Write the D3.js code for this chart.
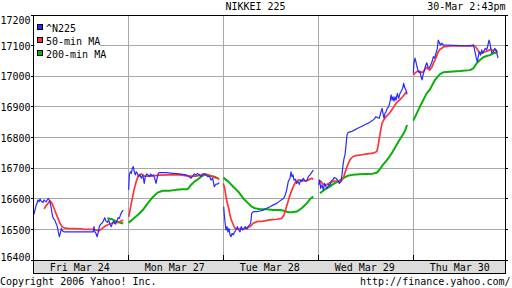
<!DOCTYPE html>
<html><head><meta charset="utf-8">
<script src="https://cdn.jsdelivr.net/npm/d3@7"></script>
<style>html,body{margin:0;padding:0;background:#fff}svg{display:block}text{font-family:"DejaVu Sans Mono",monospace;font-size:10px;fill:#000}</style>
</head><body>
<script>
// ---- data (t = trading day index + fraction of day, value = index points)
const dayLabels = ["Fri Mar 24","Mon Mar 27","Tue Mar 28","Wed Mar 29","Thu Mar 30"];
const yTicks = [16400,16500,16600,16700,16800,16900,17000,17100,17200];
const seriesNames = ["^N225","50-min MA","200-min MA"];
const titleText = "NIKKEI 225";
const stampText = "30-Mar 2:43pm";

const n225 = [
[0.007,16549],[0.018,16563],[0.028,16577],[0.039,16585],[0.049,16596],[0.060,16590],[0.071,16599],[0.081,16593],[0.092,16590],[0.102,16588],[0.113,16596],[0.123,16593],[0.134,16590],[0.147,16596],[0.158,16601],[0.168,16596],[0.179,16585],[0.189,16569],[0.200,16547],[0.211,16536],[0.225,16531],[0.239,16520],[0.253,16509],[0.263,16492],[0.274,16476],[0.284,16487],[0.295,16503],[0.309,16495],[0.323,16492],[0.492,16492],[0.632,16492],[0.639,16509],[0.649,16492],[0.660,16487],[0.671,16476],[0.681,16487],[0.695,16509],[0.709,16517],[0.723,16520],[0.737,16527],[0.752,16538],[0.765,16527],[0.779,16523],[0.794,16531],[0.807,16517],[0.821,16509],[0.836,16523],[0.849,16527],[0.863,16517],[0.878,16525],[0.892,16538],[0.905,16536],[0.920,16549],[0.934,16558],[0.947,16563],
[1.004,16629],[1.011,16678],[1.021,16688],[1.032,16683],[1.042,16699],[1.053,16705],[1.063,16688],[1.074,16678],[1.084,16688],[1.095,16683],[1.109,16672],[1.123,16678],[1.137,16667],[1.152,16678],[1.168,16650],[1.179,16672],[1.194,16681],[1.207,16678],[1.221,16672],[1.236,16681],[1.249,16674],[1.263,16678],[1.278,16667],[1.292,16650],[1.303,16667],[1.316,16683],[1.326,16685],[1.397,16685],[1.467,16683],[1.537,16681],[1.607,16678],[1.642,16672],[1.660,16667],[1.678,16674],[1.695,16681],[1.713,16678],[1.731,16683],[1.747,16678],[1.765,16672],[1.783,16678],[1.800,16681],[1.818,16678],[1.836,16672],[1.853,16674],[1.871,16661],[1.888,16667],[1.905,16639],[1.923,16648],[1.941,16648],[1.958,16652],
[2.004,16574],[2.011,16547],[2.018,16525],[2.028,16498],[2.039,16509],[2.049,16492],[2.060,16503],[2.070,16482],[2.081,16476],[2.092,16487],[2.105,16482],[2.120,16492],[2.134,16498],[2.147,16509],[2.162,16498],[2.176,16492],[2.189,16509],[2.204,16498],[2.218,16503],[2.232,16509],[2.246,16501],[2.260,16509],[2.274,16514],[2.288,16520],[2.299,16552],[2.316,16558],[2.352,16558],[2.386,16560],[2.421,16563],[2.457,16569],[2.492,16574],[2.527,16580],[2.563,16585],[2.597,16593],[2.632,16601],[2.650,16610],[2.667,16629],[2.684,16656],[2.702,16667],[2.713,16688],[2.723,16672],[2.734,16678],[2.744,16661],[2.758,16664],[2.773,16650],[2.786,16656],[2.800,16647],[2.815,16661],[2.829,16656],[2.842,16667],[2.860,16658],[2.878,16658],[2.895,16672],[2.913,16678],[2.931,16686],[2.947,16694],
[3.004,16645],[3.015,16661],[3.025,16634],[3.039,16645],[3.053,16629],[3.067,16650],[3.081,16639],[3.095,16634],[3.109,16647],[3.123,16643],[3.137,16658],[3.152,16661],[3.168,16669],[3.186,16667],[3.204,16661],[3.221,16650],[3.239,16656],[3.249,16678],[3.260,16710],[3.271,16732],[3.281,16743],[3.292,16775],[3.302,16808],[3.316,16817],[3.344,16819],[3.379,16824],[3.415,16830],[3.450,16835],[3.484,16841],[3.520,16846],[3.555,16852],[3.589,16860],[3.607,16868],[3.625,16865],[3.642,16863],[3.660,16884],[3.671,16895],[3.681,16879],[3.692,16863],[3.702,16879],[3.713,16884],[3.726,16895],[3.741,16901],[3.755,16917],[3.766,16939],[3.776,16922],[3.786,16933],[3.797,16919],[3.807,16933],[3.818,16922],[3.832,16944],[3.846,16928],[3.860,16944],[3.874,16952],[3.888,16961],[3.899,16977],[3.909,16963],[3.923,16955],[3.934,16941],
[4.000,17010],[4.007,17042],[4.018,17059],[4.028,17047],[4.039,17031],[4.049,17020],[4.060,17012],[4.071,17015],[4.081,16998],[4.092,16988],[4.102,17004],[4.113,17015],[4.126,17031],[4.141,17044],[4.155,17031],[4.168,17026],[4.183,17037],[4.197,17047],[4.211,17064],[4.225,17059],[4.239,17075],[4.253,17091],[4.263,17118],[4.274,17110],[4.284,17102],[4.299,17108],[4.316,17102],[4.352,17102],[4.421,17101],[4.492,17100],[4.562,17100],[4.615,17099],[4.632,17102],[4.642,17091],[4.653,17075],[4.663,17059],[4.674,17047],[4.684,17064],[4.695,17080],[4.709,17069],[4.720,17086],[4.731,17075],[4.745,17083],[4.758,17091],[4.773,17086],[4.786,17102],[4.797,17118],[4.807,17108],[4.818,17086],[4.828,17075],[4.842,17080],[4.857,17091],[4.871,17086],[4.884,17069],[4.892,17059]
];

const ma50 = [
[0.113,16567],[0.134,16577],[0.155,16585],[0.176,16593],[0.197,16585],[0.218,16569],[0.239,16552],[0.260,16536],[0.281,16520],[0.302,16509],[0.323,16505],[0.358,16503],[0.499,16502],[0.534,16500],[0.632,16500],[0.660,16498],[0.692,16495],[0.726,16503],[0.762,16512],[0.797,16517],[0.832,16520],[0.867,16523],[0.902,16523],[0.926,16527],[0.947,16531],
[1.004,16541],[1.018,16563],[1.032,16585],[1.046,16607],[1.060,16629],[1.074,16645],[1.088,16661],[1.102,16672],[1.116,16678],[1.134,16681],[1.152,16678],[1.168,16674],[1.221,16674],[1.326,16677],[1.432,16678],[1.537,16678],[1.642,16674],[1.713,16674],[1.765,16678],[1.800,16681],[1.836,16678],[1.871,16674],[1.905,16670],[1.941,16667],[1.958,16663],
[2.000,16650],[2.015,16634],[2.028,16607],[2.042,16585],[2.057,16569],[2.070,16547],[2.084,16531],[2.099,16520],[2.113,16509],[2.126,16503],[2.147,16501],[2.176,16503],[2.211,16501],[2.246,16503],[2.281,16509],[2.316,16520],[2.352,16525],[2.421,16527],[2.492,16531],[2.563,16533],[2.615,16536],[2.639,16547],[2.660,16569],[2.681,16590],[2.702,16612],[2.723,16629],[2.744,16645],[2.765,16656],[2.789,16661],[2.825,16661],[2.860,16658],[2.895,16661],[2.931,16667],[2.947,16664],
[3.004,16661],[3.028,16656],[3.053,16647],[3.081,16645],[3.109,16650],[3.133,16654],[3.168,16658],[3.239,16658],[3.263,16667],[3.284,16688],[3.309,16710],[3.333,16727],[3.362,16737],[3.397,16741],[3.450,16743],[3.502,16746],[3.555,16748],[3.589,16750],[3.615,16754],[3.628,16770],[3.642,16797],[3.657,16824],[3.671,16846],[3.688,16857],[3.713,16868],[3.748,16879],[3.784,16895],[3.819,16912],[3.854,16922],[3.888,16933],[3.916,16944],[3.934,16950],
[4.000,17004],[4.018,17010],[4.036,17015],[4.053,17018],[4.071,17015],[4.088,17012],[4.105,17015],[4.123,17023],[4.141,17029],[4.158,17023],[4.175,17020],[4.194,17029],[4.211,17042],[4.228,17053],[4.246,17066],[4.263,17080],[4.281,17088],[4.299,17091],[4.316,17096],[4.386,17099],[4.492,17099],[4.579,17099],[4.632,17101],[4.657,17096],[4.678,17086],[4.702,17075],[4.731,17077],[4.758,17080],[4.786,17083],[4.815,17088],[4.842,17083],[4.863,17086],[4.884,17080]
];

const ma200 = [
[0.779,16536],[0.832,16533],[0.867,16527],[0.902,16523],[0.947,16519],
[1.004,16522],[1.046,16533],[1.099,16547],[1.152,16563],[1.204,16585],[1.257,16605],[1.309,16620],[1.362,16626],[1.432,16626],[1.503,16629],[1.573,16631],[1.625,16631],[1.660,16645],[1.695,16656],[1.731,16663],[1.765,16672],[1.800,16678],[1.836,16678],[1.871,16674],[1.905,16672],[1.941,16667],
[2.000,16669],[2.053,16656],[2.105,16639],[2.158,16623],[2.211,16601],[2.263,16585],[2.299,16574],[2.334,16569],[2.386,16566],[2.457,16566],[2.527,16563],[2.597,16563],[2.650,16560],[2.684,16556],[2.720,16556],[2.773,16558],[2.825,16569],[2.878,16585],[2.920,16601],[2.947,16607],
[3.018,16618],[3.063,16629],[3.116,16639],[3.168,16650],[3.221,16658],[3.257,16667],[3.309,16675],[3.362,16678],[3.432,16680],[3.502,16681],[3.573,16682],[3.615,16685],[3.642,16694],[3.678,16710],[3.713,16723],[3.748,16737],[3.784,16754],[3.819,16773],[3.854,16792],[3.888,16808],[3.916,16824],[3.934,16841],
[4.000,16855],[4.070,16901],[4.141,16944],[4.175,16957],[4.228,16988],[4.281,17007],[4.316,17013],[4.386,17015],[4.492,17017],[4.597,17020],[4.632,17026],[4.667,17042],[4.702,17053],[4.737,17062],[4.773,17066],[4.807,17069],[4.842,17075],[4.871,17077],[4.884,17083]
];

// ---- layout
const W = 512, H = 288;
const L = 34, R = 505, T = 15, B = 260, bandB = 273;
const colors = {n225:"#2828ff", ma50:"#ff3434", ma200:"#08b008"};

const svg = d3.select("body").append("svg").attr("width", W).attr("height", H);
const x = d3.scaleLinear().domain([0, 5]).range([33.3, 508.3]);
const y = d3.scaleLinear().domain([16400, 17200]).range([B, T]);
const px = v => Math.floor(v) + 0.5;

// gridlines
const g = svg.append("g");
g.selectAll("line.hg").data(yTicks.slice(1, -1)).join("line")
  .attr("x1", L).attr("x2", R).attr("y1", d => px(y(d))).attr("y2", d => px(y(d)))
  .attr("stroke", "#a8a8a8").attr("stroke-width", 1);
g.selectAll("line.vg").data([1,2,3,4]).join("line")
  .attr("x1", d => px(x(d))).attr("x2", d => px(x(d))).attr("y1", T).attr("y2", B)
  .attr("stroke", "#a8a8a8").attr("stroke-width", 1);

// legend backgrounds (white behind text)
const leg = svg.append("g");
seriesNames.forEach((n, i) => {
  const by = 31.5 + i * 13;
  leg.append("rect").attr("x", 35).attr("y", by - 9).attr("width", 11 + n.length * 6.02).attr("height", 11).attr("fill", "#fff");
});

// lines
svg.append("clipPath").attr("id", "clip").append("rect").attr("x", L).attr("y", T).attr("width", R - L).attr("height", B - T);
const line = d3.line().x(d => x(d[0])).y(d => y(d[1]));
const lg = svg.append("g").attr("clip-path", "url(#clip)");
[[ma200, colors.ma200, 2], [ma50, colors.ma50, 1.7], [n225, colors.n225, 1.2]].forEach(([data, c, w]) => {
  d3.groups(data, d => Math.floor(d[0])).forEach(([k, seg]) => {
    lg.append("path").attr("d", line(seg)).attr("fill", "none").attr("stroke", c)
      .attr("stroke-width", w).attr("stroke-linejoin", "round");
  });
});

// legend items
[colors.n225, colors.ma50, colors.ma200].forEach((c, i) => {
  const by = 31.5 + i * 13;
  leg.append("rect").attr("x", 37.5).attr("y", 24.5 + i * 13).attr("width", 5).attr("height", 5)
    .attr("fill", c).attr("stroke", "#000").attr("stroke-width", 1);
  leg.append("text").attr("x", 46).attr("y", by).text(seriesNames[i]);
});

// border and ticks
svg.append("rect").attr("x", L - 0.5).attr("y", T + 0.5).attr("width", R - L + 1).attr("height", B - T)
  .attr("fill", "none").attr("stroke", "#000");
svg.selectAll("line.lt").data(yTicks).join("line")
  .attr("x1", L - 3).attr("x2", L).attr("y1", d => px(y(d))).attr("y2", d => px(y(d))).attr("stroke", "#000");
svg.selectAll("line.rt").data(yTicks).join("line")
  .attr("x1", R).attr("x2", R + 3).attr("y1", d => px(y(d))).attr("y2", d => px(y(d))).attr("stroke", "#000");
svg.selectAll("line.bt").data([1,2,3,4]).join("line")
  .attr("x1", d => px(x(d))).attr("x2", d => px(x(d))).attr("y1", B - 5).attr("y2", B).attr("stroke", "#000");

// y labels
svg.selectAll("text.yl").data(yTicks).join("text")
  .attr("x", 30.5).attr("text-anchor", "end")
  .attr("y", (d, i) => i === yTicks.length - 1 ? 24 : (i === 0 ? 261 : y(d) + 4.2))
  .text(d => d);

// date band
svg.append("rect").attr("x", L - 0.5).attr("y", B + 0.5).attr("width", R - L + 1).attr("height", bandB - B)
  .attr("fill", "#dcdcdc").attr("stroke", "#000");
svg.selectAll("text.dl").data(dayLabels).join("text")
  .attr("x", (d, i) => x(i + 0.5) - 1).attr("y", 270.5).attr("text-anchor", "middle").text(d => d);

// titles
svg.append("text").attr("x", 255.5).attr("y", 10).attr("text-anchor", "middle").text(titleText);
svg.append("text").attr("x", 505.5).attr("y", 10).attr("text-anchor", "end").text(stampText);
svg.append("text").attr("x", 0).attr("y", 285).text("Copyright 2006 Yahoo! Inc.");
svg.append("text").attr("x", 510.5).attr("y", 285).attr("text-anchor", "end").text("http://finance.yahoo.com/");
</script>
</body></html>
